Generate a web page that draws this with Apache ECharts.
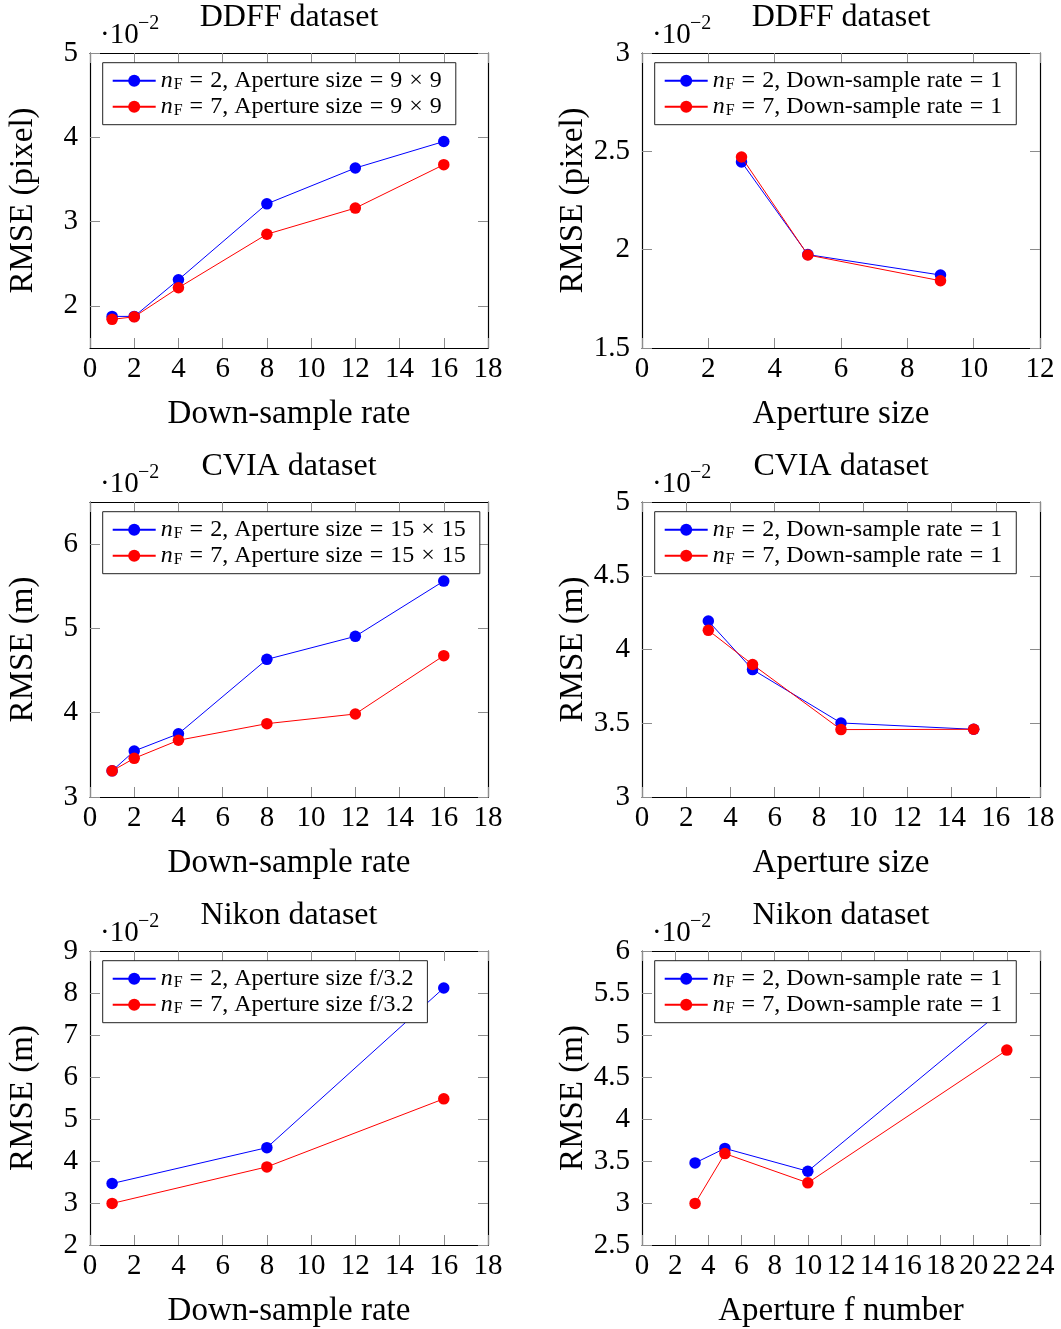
<!DOCTYPE html>
<html>
<head>
<meta charset="utf-8">
<script src="https://cdn.jsdelivr.net/npm/echarts@6/dist/echarts.min.js"></script>
<style>
html,body{margin:0;padding:0;background:#fff;}
#chart{width:1061px;height:1329px;}
</style>
</head>
<body>
<div id="chart"></div>
<script>
// ---- data (RMSE values in units of 1e-2) ----
const titles = ['DDFF dataset', 'DDFF dataset', 'CVIA dataset', 'CVIA dataset', 'Nikon dataset', 'Nikon dataset'];
const xNames = ['Down-sample rate', 'Aperture size', 'Down-sample rate', 'Aperture size', 'Down-sample rate', 'Aperture f number'];
const yNames = ['RMSE (pixel)', 'RMSE (pixel)', 'RMSE (m)', 'RMSE (m)', 'RMSE (m)', 'RMSE (m)'];
const legendSettings = ['Aperture size = 9 × 9', 'Down-sample rate = 1', 'Aperture size = 15 × 15', 'Down-sample rate = 1', 'Aperture size f/3.2', 'Down-sample rate = 1'];
const nFValues = [2, 7];
const scaleBase = '·10';
const scaleExp = '−2';

const dsRate = [1, 2, 4, 8, 12, 16];
const ddffRateN2 = [1.875, 1.875, 2.31, 3.21, 3.635, 3.95];
const ddffRateN7 = [1.84, 1.87, 2.215, 2.85, 3.16, 3.675];

const ddffAperture = [3, 5, 9];
const ddffApN2 = [2.446, 1.975, 1.871];
const ddffApN7 = [2.471, 1.973, 1.842];

const cviaRateN2 = [3.31, 3.546, 3.75, 4.633, 4.906, 5.562];
const cviaRateN7 = [3.31, 3.459, 3.673, 3.87, 3.985, 4.677];

const cviaAperture = [3, 5, 9, 15];
const cviaApN2 = [4.193, 3.864, 3.502, 3.459];
const cviaApN7 = [4.13, 3.898, 3.457, 3.459];

const nikonRate = [1, 8, 16];
const nikonRateN2 = [3.464, 4.318, 8.12];
const nikonRateN7 = [2.99, 3.86, 5.48];

const nikonFNumber = [3.2, 5, 10, 22];
const nikonFN2 = [3.477, 3.65, 3.378, 5.34];
const nikonFN7 = [2.995, 3.588, 3.24, 4.82];

// axis ranges and tick values
const xRanges = [[0, 18, 2], [0, 12, 2], [0, 18, 2], [0, 18, 2], [0, 18, 2], [0, 24, 2]];
const yRanges = [[1.5, 5], [1.5, 3], [3, 6.5], [3, 5], [2, 9], [2.5, 6]];
const yTickValues = [
  [2, 3, 4, 5],
  [1.5, 2, 2.5, 3],
  [3, 4, 5, 6],
  [3, 3.5, 4, 4.5, 5],
  [2, 3, 4, 5, 6, 7, 8, 9],
  [2.5, 3, 3.5, 4, 4.5, 5, 5.5, 6]
];
const panelX = [dsRate, ddffAperture, dsRate, cviaAperture, nikonRate, nikonFNumber];
const panelY = [
  [ddffRateN2, ddffRateN7], [ddffApN2, ddffApN7],
  [cviaRateN2, cviaRateN7], [cviaApN2, cviaApN7],
  [nikonRateN2, nikonRateN7], [nikonFN2, nikonFN7]
];
const seriesColors = ['#0000ff', '#ff0000'];

// ---- layout ----
const FONT = 'Liberation Serif';
const gridPos = [
  [90, 53], [642, 53],
  [90, 502], [642, 502],
  [90, 951], [642, 951]
];
const GW = 398, GH = 295;

const option = {
  animation: false,
  backgroundColor: '#fff',
  title: [], grid: [], xAxis: [], yAxis: [], series: [], legend: [], graphic: []
};

const legendMap = {};

function xTicks(r) {
  const v = [];
  for (let t = r[0]; t <= r[1] + 1e-9; t += r[2]) v.push(t);
  return v;
}

const tickColor = '#8c8c8c';

for (let p = 0; p < 6; p++) {
  const [gl, gt] = gridPos[p];
  option.grid.push({ left: gl, top: gt, width: GW, height: GH, containLabel: false });
  const xr = xRanges[p], yr = yRanges[p];
  const xt = xTicks(xr), yt = yTickValues[p];
  option.xAxis.push({
    type: 'value', gridIndex: p, position: 'bottom', min: xr[0], max: xr[1],
    name: xNames[p], nameLocation: 'middle', nameGap: 50,
    nameTextStyle: { fontFamily: FONT, fontSize: 33, color: '#000' },
    axisLine: { show: true, onZero: false, lineStyle: { color: '#000', width: 1.2 } },
    axisTick: { show: true, inside: true, length: 10, customValues: xt, lineStyle: { color: tickColor, width: 1 } },
    axisLabel: { show: true, customValues: xt, margin: 7, fontFamily: FONT, fontSize: 29, color: '#000' },
    splitLine: { show: false }
  });
  option.xAxis.push({
    type: 'value', gridIndex: p, position: 'top', min: xr[0], max: xr[1],
    axisLine: { show: true, onZero: false, lineStyle: { color: '#000', width: 1.2 } },
    axisTick: { show: true, inside: true, length: 10, customValues: xt, lineStyle: { color: tickColor, width: 1 } },
    axisLabel: { show: false },
    splitLine: { show: false }
  });
  option.yAxis.push({
    type: 'value', gridIndex: p, position: 'left', min: yr[0], max: yr[1],
    name: yNames[p], nameLocation: 'middle', nameGap: 50, nameRotate: 90,
    nameTextStyle: { fontFamily: FONT, fontSize: 33, color: '#000' },
    axisLine: { show: true, onZero: false, lineStyle: { color: '#000', width: 1.2 } },
    axisTick: { show: true, inside: true, length: 10, customValues: yt, lineStyle: { color: tickColor, width: 1 } },
    axisLabel: { show: true, customValues: yt, margin: 12, fontFamily: FONT, fontSize: 29, color: '#000' },
    splitLine: { show: false }
  });
  option.yAxis.push({
    type: 'value', gridIndex: p, position: 'right', min: yr[0], max: yr[1],
    axisLine: { show: true, onZero: false, lineStyle: { color: '#000', width: 1.2 } },
    axisTick: { show: true, inside: true, length: 10, customValues: yt, lineStyle: { color: tickColor, width: 1 } },
    axisLabel: { show: false },
    splitLine: { show: false }
  });

  const names = [];
  for (let s = 0; s < 2; s++) {
    const name = 'p' + p + '_s' + s;
    names.push(name);
    legendMap[name] = { nf: nFValues[s], text: legendSettings[p] };
    const xs = panelX[p], ys = panelY[p][s];
    option.series.push({
      type: 'line', name: name,
      xAxisIndex: 2 * p, yAxisIndex: 2 * p,
      data: xs.map((x, i) => [x, ys[i]]),
      symbol: 'circle', symbolSize: 11.5, showSymbol: true,
      color: seriesColors[s],
      lineStyle: { color: seriesColors[s], width: 1 },
      itemStyle: { color: seriesColors[s] },
      emphasis: { disabled: true },
      z: 2 + s
    });
  }

  option.legend.push({
    data: names, orient: 'vertical',
    left: gl + 12.7, top: gt + 9.7,
    padding: [6, 14, 6, 9], itemGap: 2,
    itemWidth: 43, itemHeight: 15,
    borderColor: '#222', borderWidth: 1, backgroundColor: '#fff',
    selectedMode: false, z: 10,
    formatter: function (name) {
      const m = legendMap[name];
      let body = m.text.replace(/ = /g, '}{o|=}{t|').replace(/ × /g, '}{o|×}{t|');
      return '{i|n}{s|F}{o|=}{t|' + m.nf + ', ' + body + '}';
    },
    textStyle: {
      fontFamily: FONT, fontSize: 24, color: '#000', lineHeight: 24,
      rich: {
        i: { fontFamily: FONT, fontSize: 24, fontStyle: 'italic', color: '#000', lineHeight: 24 },
        s: { fontFamily: FONT, fontSize: 16, color: '#000', lineHeight: 24, verticalAlign: 'bottom', padding: [0, 0, 0, 1] },
        o: { fontFamily: FONT, fontSize: 24, color: '#000', lineHeight: 24, padding: [0, 7, 0, 7] },
        t: { fontFamily: FONT, fontSize: 24, color: '#000', lineHeight: 24 }
      }
    }
  });

  option.title.push({
    text: titles[p], left: gl + GW / 2, top: gt - 51, textAlign: 'center', padding: 0,
    textStyle: { fontFamily: FONT, fontSize: 32, fontWeight: 'normal', color: '#000' }
  });

  option.graphic.push({
    type: 'text', x: gl + 10, y: gt - 18, z: 20,
    style: { text: scaleBase, fontFamily: FONT, fontSize: 29, fill: '#000', textAlign: 'left', textVerticalAlign: 'middle' }
  });
  option.graphic.push({
    type: 'text', x: gl + 48, y: gt - 29, z: 20,
    style: { text: scaleExp, fontFamily: FONT, fontSize: 20, fill: '#000', textAlign: 'left', textVerticalAlign: 'middle' }
  });
}

const chart = echarts.init(document.getElementById('chart'), null, { renderer: 'canvas' });
chart.setOption(option);
</script>
</body>
</html>
